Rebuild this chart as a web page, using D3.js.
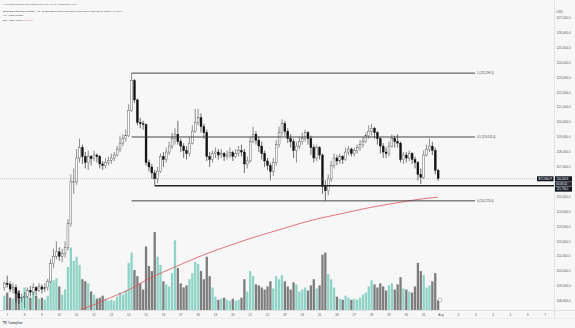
<!DOCTYPE html>
<html>
<head>
<meta charset="utf-8">
<script src="https://cdn.jsdelivr.net/npm/d3@7"></script>
<style>
  body { margin: 0; background: #f7f7f7; }
  svg { display: block; font-family: "Liberation Sans", Arial, sans-serif; }
</style>
</head>
<body>
<div class="chart"></div>
<script>
// DATA — BTCUSD.P 4h candles, Jul 6 20:00 UTC -> Jul 31 20:00 UTC
const firstCandle = Date.UTC(2025, 6, 6, 20);
const firstOpen = 108900;
const closes = [
  109200,
  109100,108800,108900,108500,108200,108250,
  108300,108700,108600,108900,108700,108950,
  108800,108900,109300,110500,111000,111300,
  111000,111200,111600,113200,116000,116000,
  117600,118300,117700,117300,117700,117550,
  117800,117700,117200,117100,117300,117450,
  117600,117800,118200,118600,118900,119100,
  120800,122800,121500,120000,119900,119850,
  117300,117000,116600,116200,116700,117700,
  117500,118000,118400,118900,119200,118700,
  118400,118100,117900,118600,119400,120000,
  120300,119700,119300,117700,117500,117900,
  118000,117800,117900,117700,117800,117950,
  117700,117900,118100,118000,117200,117400,
  118700,119200,118800,118400,117900,117400,
  117100,116700,117300,118500,119300,119900,
  119400,118900,118700,118100,118400,118700,
  118900,119300,118900,118300,117600,118300,
  117800,115700,115400,116200,117100,117600,
  117400,117700,117500,118000,118200,117900,
  118100,118300,118500,118700,119100,119400,
  119600,119300,118900,118400,118000,117900,
  118400,118900,118700,118600,117500,117800,
  117600,117900,117500,117300,116500,116300,
  117800,118200,118400,118100,116765.5,116206.8
];
const highs = [
  109300,
  109700,109300,109200,109100,108700,108500,
  108600,108900,109000,109200,109000,109200,
  109100,109200,109500,110800,111500,112000,
  111600,111500,112000,113500,116500,116900,
  118200,118900,118500,118000,118100,117800,
  118100,117900,117800,117400,117600,117700,
  117900,118000,118400,119100,119200,119500,
  121200,123299.5,122900,121600,120300,120100,
  119900,117500,117200,116800,117000,117900,
  118000,118300,118700,119300,119600,120100,
  118900,118600,118400,119000,119800,120900,
  120900,120600,119900,119500,118000,118100,
  118300,118200,118200,118000,118100,118300,
  118100,118200,118400,118500,118200,117700,
  119000,119700,119400,119000,118700,118100,
  117600,117300,117600,118800,119700,120200,
  120100,119600,119200,118900,118700,119000,
  119300,119500,119400,119100,118500,118500,
  118400,117900,116100,116500,117400,117900,
  117800,117900,117800,118300,118400,118300,
  118300,118500,118800,119000,119300,119800,
  119900,119700,119400,119000,118600,118300,
  118700,119200,119100,119200,118700,118000,
  118000,118100,118000,117700,117400,116900,
  118100,118500,118900,118700,118300,116866.7
];
const lows = [
  108700,
  108900,108600,108500,107900,107800,107900,
  107500,108200,108300,108400,108400,108600,
  108500,108600,108700,109200,110200,110800,
  110700,110600,110900,111400,113000,115200,
  115800,117300,117200,116900,116800,117100,
  117400,117300,116900,116800,116900,117100,
  117200,117400,117700,118000,118400,118700,
  119000,120700,121300,119800,119600,119500,
  117100,116700,116200,115750,115900,116600,
  117000,117300,117800,118200,118500,118500,
  118000,117600,117500,117700,118500,119300,
  119800,119300,118900,117400,117000,117300,
  117600,117500,117600,117400,117500,117600,
  117400,117600,117700,117700,116600,116900,
  117300,118600,118500,118000,117500,117000,
  116800,116100,116400,117100,118300,119100,
  119100,118600,118300,117600,117300,118200,
  118500,118700,118500,117800,117300,117400,
  117500,115200,114723.4,115100,116000,116900,
  117100,117200,117200,117400,117800,117700,
  117700,117900,118100,118300,118600,118900,
  119100,118900,118500,117900,117600,117600,
  117700,118300,118300,118300,117300,117200,
  117300,117400,117200,116900,116100,115850,
  116200,117700,118000,117800,116500,116063.6
];
// volume, millions USD
const volumes = [
  140,
  170,120,110,210,190,130,
  220,150,120,180,140,110,
  120,100,140,330,290,310,
  230,150,200,420,610,480,
  520,440,300,280,260,180,
  150,110,120,140,110,90,
  100,90,130,170,150,190,
  460,560,390,330,260,200,
  620,430,380,760,520,440,
  280,250,230,360,680,410,
  260,220,240,300,360,470,
  450,380,300,520,330,220,
  130,100,110,120,100,90,
  110,90,100,120,300,180,
  380,330,250,240,220,200,
  230,280,210,330,300,340,
  280,230,200,270,250,180,
  200,220,190,240,300,210,
  240,540,560,350,300,220,
  130,110,100,140,120,100,
  110,100,120,150,170,230,
  290,250,220,260,230,190,
  240,260,200,250,320,210,
  200,180,170,230,460,380,
  340,220,240,280,360,95.28
];
// EMA 200 (close), read at 00:00 UTC of each day
const emaDays = [11,12,13,14,15,16,17,18,19,20,21,22,23,24,25,26,27,28,29,30,31,31.83];
const emaValues = [107300,107750,108250,108750,109400,109950,110450,110950,111400,111800,
  112200,112550,112900,113250,113550,113800,114050,114300,114500,114700,114870,114970];

const fibHigh = 123299.5, fibLow = 114723.4;
const fibLevels = [1, 0.5, 0];
const supportLevel = 115736;
const priceTicks = d3.range(108000, 127001, 1000);

// SETUP
const W = 575, H = 328;
const plotRight = 554, plotBottom = 310;
const upColor = "#ffffff", downColor = "#111111";

const svg = d3.select(".chart").append("svg").attr("width", W).attr("height", H);
svg.append("rect").attr("width", W).attr("height", H).attr("fill", "#f7f7f7");

const x = d3.scaleUtc()
  .domain([Date.UTC(2025, 6, 6, 14), Date.UTC(2025, 7, 7, 12, 15)])
  .range([0, plotRight]);
const y = d3.scaleLinear().domain([108000, 127000]).range([301, 18]);
const yVol = d3.scaleLinear().domain([0, 800]).range([plotBottom, 228]);

const candles = closes.map((c, i) => ({
  t: new Date(firstCandle + i * 4 * 3600e3),
  o: i === 0 ? firstOpen : closes[i - 1],
  h: highs[i], l: lows[i], c: c, v: volumes[i]
}));

svg.append("clipPath").attr("id", "plot")
  .append("rect").attr("width", plotRight).attr("height", plotBottom);
const plot = svg.append("g").attr("clip-path", "url(#plot)");

// volume
plot.append("g").selectAll("rect").data(candles).enter().append("rect")
  .attr("x", d => x(d.t) - 1.15)
  .attr("width", 2.3)
  .attr("y", d => yVol(d.v))
  .attr("height", d => plotBottom - yVol(d.v))
  .attr("fill", d => d.c >= d.o ? "#8fd3c6" : "#7d7d7d");

// EMA
const emaLine = d3.line()
  .x((d, i) => x(new Date(Date.UTC(2025, 6, 1) + (emaDays[i] - 1) * 86400e3)))
  .y(d => y(d))
  .curve(d3.curveMonotoneX);
plot.append("path").attr("d", emaLine(emaValues))
  .attr("fill", "none").attr("stroke", "#e0505e").attr("stroke-width", 0.8);

// fib retracement
const fibX0 = x(candles[44].t), fibX1 = 475;
const fibG = svg.append("g");
fibLevels.forEach(f => {
  const p = fibLow + (fibHigh - fibLow) * f;
  fibG.append("line").attr("x1", fibX0).attr("x2", fibX1)
    .attr("y1", y(p)).attr("y2", y(p))
    .attr("stroke", "#333").attr("stroke-width", 0.9);
  fibG.append("text").attr("x", fibX1 + 2).attr("y", y(p))
    .attr("dy", "0.35em").attr("font-size", 2.8).attr("fill", "#444")
    .text(`${f} (${d3.format(",.1f")(p)})`);
});

// support line
svg.append("line").attr("x1", x(candles[52].t)).attr("x2", plotRight)
  .attr("y1", y(supportLevel)).attr("y2", y(supportLevel))
  .attr("stroke", "#222").attr("stroke-width", 1.3);

// last price line
const last = candles[candles.length - 1];
svg.append("line").attr("x1", 0).attr("x2", plotRight)
  .attr("y1", y(last.c)).attr("y2", y(last.c))
  .attr("stroke", "#9a9a9a").attr("stroke-width", 0.5).attr("stroke-dasharray", "1,1");

// candles
const cg = plot.append("g").selectAll("g").data(candles).enter().append("g");
cg.append("line")
  .attr("x1", d => x(d.t)).attr("x2", d => x(d.t))
  .attr("y1", d => y(d.h)).attr("y2", d => y(d.l))
  .attr("stroke", d => d.c >= d.o ? "#444" : "#111").attr("stroke-width", 0.6);
cg.append("rect")
  .attr("x", d => x(d.t) - 0.95)
  .attr("width", 1.9)
  .attr("y", d => y(Math.max(d.o, d.c)))
  .attr("height", d => Math.max(0.6, Math.abs(y(d.o) - y(d.c))))
  .attr("fill", d => d.c >= d.o ? upColor : downColor)
  .attr("stroke", d => d.c >= d.o ? "#444" : downColor)
  .attr("stroke-width", 0.4);

// clock icon at last bar
svg.append("circle").attr("cx", x(last.t) + 2).attr("cy", 300).attr("r", 1.8)
  .attr("fill", "#fff").attr("stroke", "#888").attr("stroke-width", 0.5);

// AXES
svg.append("line").attr("x1", plotRight + 0.5).attr("x2", plotRight + 0.5)
  .attr("y1", 0).attr("y2", 318).attr("stroke", "#d4d4d4").attr("stroke-width", 0.6);
svg.append("line").attr("x1", 0).attr("x2", W)
  .attr("y1", plotBottom + 0.5).attr("y2", plotBottom + 0.5)
  .attr("stroke", "#d4d4d4").attr("stroke-width", 0.6);
svg.append("line").attr("x1", 0).attr("x2", W)
  .attr("y1", 318.5).attr("y2", 318.5)
  .attr("stroke", "#e0e0e0").attr("stroke-width", 0.5);

svg.append("g").selectAll("text").data(priceTicks).enter().append("text")
  .attr("x", plotRight + 2.5).attr("y", d => y(d)).attr("dy", "0.35em")
  .attr("font-size", 3.2).attr("fill", "#555")
  .text(d3.format(",.1f"));
svg.append("text").attr("x", plotRight + 2.5).attr("y", 12).attr("dy", "0.35em")
  .attr("font-size", 3).attr("fill", "#555").text("USD");

const days = d3.utcDay.range(Date.UTC(2025, 6, 7), Date.UTC(2025, 7, 8));
svg.append("g").selectAll("text").data(days).enter().append("text")
  .attr("x", d => x(d)).attr("y", 314.5).attr("dy", "0.35em")
  .attr("text-anchor", "middle").attr("font-size", 3).attr("fill", "#555")
  .text(d => d.getUTCDate() === 1 ? "Aug" : d.getUTCDate());

// price axis labels
const fmt = d3.format(",.1f");
const boxes = [
  { yc: y(last.c), text: fmt(last.c), fill: "#131722" },
  { yc: y(last.c) + 5.2, text: "01:05:12", fill: "#2a2e39" },
  { yc: y(last.c) + 10.4, text: fmt(supportLevel), fill: "#131722" }
];
const bg = svg.append("g");
boxes.forEach(b => {
  bg.append("rect").attr("x", plotRight + 1).attr("y", b.yc - 2.5)
    .attr("width", 17).attr("height", 5).attr("fill", b.fill);
  bg.append("text").attr("x", plotRight + 2.5).attr("y", b.yc).attr("dy", "0.35em")
    .attr("font-size", 2.7).attr("fill", "#fff").text(b.text);
});
bg.append("rect").attr("x", 537).attr("y", y(last.c) - 2.5)
  .attr("width", 16.5).attr("height", 5).attr("fill", "#131722");
bg.append("text").attr("x", 538.5).attr("y", y(last.c)).attr("dy", "0.35em")
  .attr("font-size", 2.7).attr("fill", "#fff").text("BTCUSD.P");

// HEADER
const chg = last.c - last.o;
const hdr = svg.append("g").attr("font-size", 2.5).attr("fill", "#333");
hdr.append("text").attr("x", 3).attr("y", 5).attr("fill", "#555")
  .text("AlexMarsh created with TradingView.com, Jul 31, 2025 22:54 UTC");
hdr.append("text").attr("x", 3).attr("y", 11.5)
  .text(`BTCUSD Perpetual Contract · 4h · BYBIT  O${fmt(last.o)} H${fmt(last.h)} L${fmt(last.l)} C${fmt(last.c)} ${fmt(chg).replace("-", "−")} (${d3.format("+.2%")(chg / last.o).replace("-", "−")})`);
hdr.append("text").attr("x", 3).attr("y", 16)
  .text(`Vol · USD  ${d3.format(".2f")(last.v)}M`);
const emaT = hdr.append("text").attr("x", 3).attr("y", 20.5).text("EMA (200) close  ");
emaT.append("tspan").attr("fill", "#e0505e").text(fmt(emaValues[emaValues.length - 1]));

// logo
const logo = svg.append("g");
logo.append("text").attr("x", 3).attr("y", 323).attr("dy", "0.35em")
  .attr("font-size", 3).attr("font-weight", "bold").attr("fill", "#131722").text("TV");
logo.append("text").attr("x", 8).attr("y", 323).attr("dy", "0.35em")
  .attr("font-size", 2.6).attr("fill", "#131722").text("TradingView");
</script>
</body>
</html>
